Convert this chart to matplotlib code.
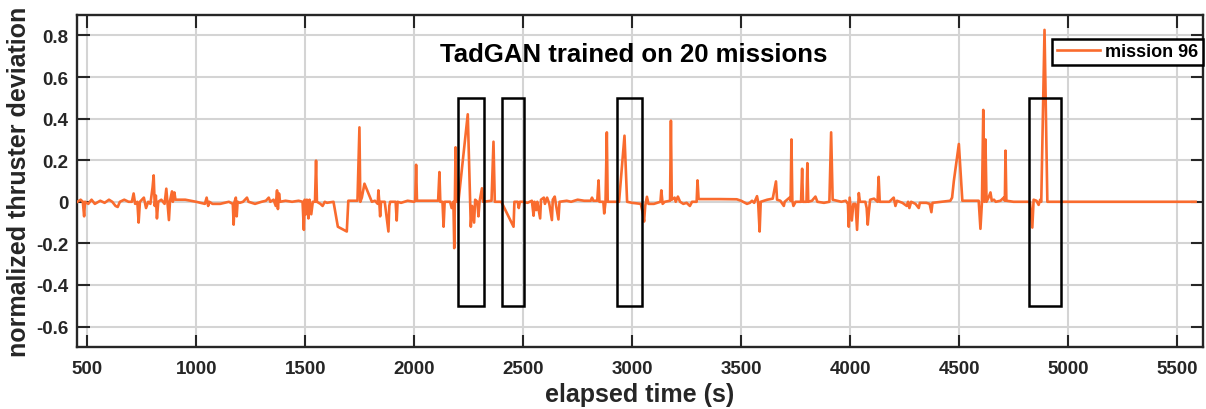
import matplotlib
matplotlib.use("Agg")
import matplotlib.pyplot as plt
from matplotlib.patches import Rectangle

# elapsed time (s) and normalized thruster deviation
elapsed_time = [
    455, 470, 480, 486, 490, 505, 520, 535, 560, 580, 600, 615, 630, 640, 650,
    670, 690, 705, 713, 720, 730, 736, 742, 760, 770, 780, 790, 800, 805, 810,
    815, 820, 826, 840, 855, 863, 868, 875, 880, 889, 893, 900, 905, 950, 1000,
    1040, 1048, 1055, 1060, 1075, 1110, 1150, 1168, 1172, 1176, 1182, 1186, 1190,
    1200, 1215, 1233, 1240, 1270, 1300, 1320, 1333, 1340, 1355, 1365, 1371, 1375,
    1380, 1385, 1410, 1440, 1470, 1488, 1494, 1498, 1503, 1508, 1515, 1520, 1528,
    1535, 1545, 1550, 1554, 1570, 1580, 1590, 1600, 1630, 1650, 1691, 1698, 1740,
    1749, 1753, 1760, 1772, 1806, 1820, 1833, 1836, 1840, 1844, 1848, 1865, 1882,
    1886, 1890, 1915, 1920, 1924, 1940, 1970, 2000, 2005, 2009, 2013, 2110, 2116,
    2120, 2130, 2135, 2140, 2165, 2172, 2180, 2184, 2190, 2196, 2203, 2246, 2257,
    2260, 2266, 2275, 2280, 2290, 2295, 2300, 2311, 2316, 2355, 2364, 2370, 2400,
    2456, 2460, 2475, 2480, 2485, 2500, 2520, 2540, 2548, 2552, 2560, 2565, 2578,
    2582, 2595, 2600, 2610, 2620, 2632, 2636, 2645, 2650, 2662, 2667, 2700, 2720,
    2750, 2780, 2810, 2816, 2822, 2840, 2846, 2850, 2868, 2872, 2878, 2884, 2888,
    2940, 2965, 2977, 3000, 3040, 3050, 3055, 3060, 3068, 3075, 3100, 3130, 3134,
    3140, 3150, 3174, 3178, 3182, 3195, 3200, 3210, 3220, 3235, 3250, 3265, 3275,
    3296, 3300, 3305, 3400, 3480, 3500, 3527, 3540, 3550, 3560, 3573, 3578, 3585,
    3590, 3620, 3645, 3660, 3665, 3680, 3696, 3700, 3722, 3727, 3731, 3735, 3740,
    3750, 3775, 3780, 3784, 3800, 3804, 3808, 3825, 3841, 3850, 3880, 3905, 3913,
    3920, 3940, 3960, 3980, 3990, 3994, 3998, 4008, 4015, 4025, 4032, 4040, 4045,
    4070, 4076, 4081, 4086, 4092, 4110, 4126, 4131, 4136, 4180, 4200, 4208, 4215,
    4240, 4260, 4266, 4272, 4280, 4300, 4315, 4320, 4350, 4365, 4373, 4378, 4420,
    4460, 4468, 4476, 4499, 4515, 4590, 4598, 4605, 4611, 4616, 4621, 4626, 4635,
    4644, 4650, 4660, 4668, 4690, 4705, 4710, 4713, 4717, 4750, 4800, 4825, 4836,
    4842, 4855, 4865, 4872, 4877, 4892, 4905, 5585,
]
deviation = [
    0.0, 0.01, 0.0, -0.07, 0.0, -0.01, 0.01, -0.01, 0.005, -0.005, 0.01, 0.0, -0.02, -0.025, 0.0,
    0.01, 0.0, 0.0, 0.04, -0.01, 0.0, -0.10, 0.0, 0.02, -0.03, 0.0, -0.01, 0.07, 0.127, -0.02,
    0.03, -0.08, 0.0, 0.01, -0.01, 0.063, 0.0, -0.088, 0.005, 0.05, 0.0, 0.045, 0.01, 0.01, 0.0,
    -0.01, 0.02, -0.02, 0.0, -0.01, -0.01, 0.0, -0.01, -0.11, 0.0, 0.02, -0.07, 0.0,
    -0.005, 0.0, 0.02, 0.0, -0.01, 0.0, 0.005, 0.02, 0.0, 0.01, -0.02, 0.055, -0.035,
    0.04, 0.0, 0.005, 0.0, 0.005, 0.0, -0.135, 0.01, -0.06, 0.01, -0.08, 0.01, -0.06,
    0.0, 0.0, 0.198, 0.0, -0.01, -0.02, 0.0, -0.005, 0.0, -0.12, -0.143, 0.005, 0.005,
    0.358, 0.0, 0.02, 0.087, 0.0, 0.005, -0.01, 0.055, 0.0, -0.07, 0.0, 0.0, -0.143,
    -0.02, 0.0, 0.0, -0.09, 0.0, -0.005, 0.005, 0.0, 0.005, 0.178, 0.005, 0.005, 0.143,
    0.0, 0.0, -0.12, 0.0, 0.0, -0.03, 0.0, -0.223, 0.262, 0.0, 0.0, 0.421, 0.0,
    -0.12, -0.02, -0.10, 0.01, 0.0, -0.07, 0.0, 0.065, 0.0, 0.005, 0.289, 0.0, 0.0,
    -0.12, 0.0, 0.0, -0.03, 0.0, 0.0, -0.005, 0.005, -0.067, 0.0, -0.04, 0.0, -0.08,
    0.01, 0.02, -0.01, 0.02, -0.01, -0.088, 0.01, 0.025, -0.01, -0.085, 0.0, 0.005, 0.0,
    0.01, 0.005, 0.005, 0.02, 0.005, 0.005, 0.103, 0.0, 0.0, -0.056, 0.0, 0.334, 0.0,
    0.0, 0.318, 0.0, -0.005, -0.01, -0.06, -0.095, -0.02, 0.024, -0.01, -0.01, 0.0, 0.055,
    -0.01, 0.0, 0.005, 0.39, 0.01, 0.02, 0.0, 0.025, 0.0, -0.01, -0.005, -0.02, 0.0,
    0.0, 0.103, 0.013, 0.013, 0.012, 0.005, -0.01, -0.005, 0.005, -0.005, 0.027, 0.0, -0.143,
    0.0, 0.01, 0.015, 0.098, 0.01, 0.005, -0.02, 0.0, 0.02, 0.005, 0.30, 0.005, -0.02,
    0.0, 0.0, 0.159, 0.0, 0.0, 0.186, 0.0, 0.005, 0.025, 0.0, -0.005, 0.0, 0.334,
    0.01, 0.005, 0.0, 0.005, -0.01, -0.12, 0.02, -0.09, -0.01, -0.01, -0.135, 0.042, 0.0,
    0.0, -0.03, -0.11, -0.05, 0.01, 0.015, 0.0, 0.12, 0.0, 0.0, 0.02, -0.02, 0.005,
    -0.005, -0.02, 0.0, -0.03, 0.0, -0.01, -0.03, -0.005, -0.005, -0.01, -0.05, -0.005, 0.0,
    0.005, 0.02, 0.10, 0.278, 0.005, 0.005, -0.13, 0.0, 0.442, 0.0, 0.30, 0.0, 0.02,
    0.045, 0.005, 0.01, 0.0, 0.005, 0.02, 0.005, 0.246, 0.005, 0.0, 0.0, 0.0, -0.124,
    0.01, 0.005, -0.015, 0.01, 0.0, 0.827, 0.0, 0.0,
]

# highlighted anomaly windows (s)
box_start = [2200, 2403, 2931, 4823]
box_end = [2320, 2505, 3044, 4968]
box_low, box_high = -0.5, 0.5

x_ticks = [500, 1000, 1500, 2000, 2500, 3000, 3500, 4000, 4500, 5000, 5500]
y_ticks = [-0.6, -0.4, -0.2, 0, 0.2, 0.4, 0.6, 0.8]
y_tick_labels = ["-0.6", "-0.4", "-0.2", "0", "0.2", "0.4", "0.6", "0.8"]

plt.rcParams["font.family"] = ["Liberation Sans", "DejaVu Sans"]
plt.rcParams["font.weight"] = "bold"

fig = plt.figure(figsize=(12.06, 4.10), dpi=100)
ax = fig.add_axes([0.0638, 0.1505, 0.9337, 0.8112])

ax.plot(elapsed_time, deviation, color="#F96B2E", lw=1.9, label="mission 96", zorder=3)

for s, e in zip(box_start, box_end):
    ax.add_patch(Rectangle((s, box_low), e - s, box_high - box_low,
                           fill=False, edgecolor="black", lw=1.8, zorder=4))

ax.set_xlim(453, 5619)
ax.set_ylim(-0.7, 0.9)
ax.set_xticks(x_ticks)
ax.set_yticks(y_ticks)
ax.set_yticklabels(y_tick_labels)
ax.grid(True, color="#d4d4d4", lw=1.5)
ax.set_axisbelow(True)

ax.tick_params(direction="in", top=True, right=True, length=9, width=1.5,
               labelsize=13.5, colors="#262626")
ax.tick_params(axis="x", pad=9)
ax.tick_params(axis="y", pad=6)
for lab in ax.get_xticklabels() + ax.get_yticklabels():
    lab.set_fontweight("bold")
for sp in ax.spines.values():
    sp.set_linewidth(1.7)
    sp.set_color("#262626")

ax.set_xlabel("elapsed time (s)", fontsize=18, fontweight="bold", color="#262626", labelpad=4)
ax.set_ylabel("normalized thruster deviation", fontsize=18, fontweight="bold", color="#262626", labelpad=4)

ax.text(0.494, 0.882, "TadGAN trained on 20 missions", transform=ax.transAxes,
        ha="center", va="center", fontsize=18.5, fontweight="bold", color="black")

leg = ax.legend(loc="upper right", bbox_to_anchor=(1.0, 0.927), borderaxespad=0,
                fontsize=13, fancybox=False, framealpha=1, edgecolor="black",
                handlelength=2.4, handletextpad=0.3, borderpad=0.25)
leg.get_frame().set_linewidth(1.8)
for t in leg.get_texts():
    t.set_fontweight("bold")

fig.savefig("out.png", dpi=100)
